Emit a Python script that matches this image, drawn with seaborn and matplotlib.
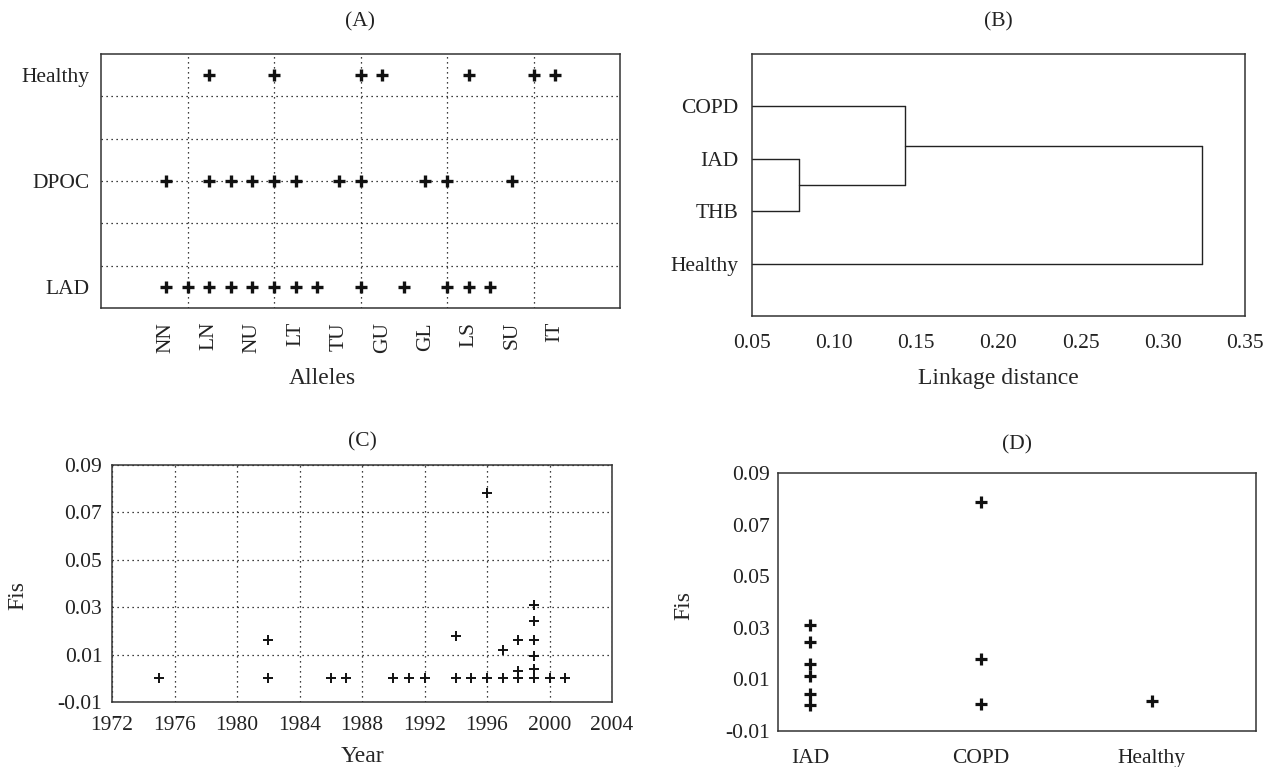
import numpy as np
import pandas as pd
import seaborn as sns
import matplotlib.pyplot as plt

# (A) allele positions present per group
allele_labels = ["NN", "LN", "NU", "LT", "TU", "GU", "GL", "LS", "SU", "IT"]
allele_label_pos = [1, 3, 5, 7, 9, 11, 13, 15, 17, 19]
groups_a = ["LAD", "DPOC", "Healthy"]
lad_alleles = [1, 2, 3, 4, 5, 6, 7, 8, 10, 12, 14, 15, 16]
dpoc_alleles = [1, 3, 4, 5, 6, 7, 9, 10, 13, 14, 17]
healthy_alleles = [3, 6, 10, 11, 15, 18, 19]

# (B) dendrogram
leaf_order = ["COPD", "IAD", "THB", "Healthy"]
merge_pairs = [("IAD", "THB"), ("COPD", "IAD|THB"), ("COPD|IAD|THB", "Healthy")]
merge_dist = [0.0785, 0.143, 0.324]

# (C) Fis by year
c_year = [1975, 1982, 1982, 1986, 1987, 1990, 1991, 1992, 1994, 1994, 1995,
          1996, 1996, 1997, 1997, 1998, 1998, 1998, 1999, 1999, 1999, 1999,
          1999, 1999, 2000, 2001]
c_fis = [0.0, 0.016, 0.0, 0.0, 0.0, 0.0, 0.0, 0.0, 0.018, 0.0, 0.0,
         0.078, 0.0, 0.012, 0.0, 0.016, 0.003, 0.0, 0.031, 0.024, 0.016, 0.0095,
         0.004, 0.0, 0.0, 0.0]

# (D) Fis by group
d_groups = ["IAD", "COPD", "Healthy"]
iad_fis = [0.031, 0.0245, 0.016, 0.0115, 0.0045, 0.0]
copd_fis = [0.0786, 0.018, 0.0003]
healthy_fis = [0.0018]

sns.set_theme(style="white")
plt.rcParams['font.family'] = ['Liberation Serif', 'DejaVu Serif']
plt.rcParams['font.size'] = 15.5
plt.rcParams['text.color'] = '#222222'

GRID = dict(color='black', linestyle=(0, (1, 3)), linewidth=0.9)
INK = '#111111'
TICK_FS = 15.5
TITLE_FS = 15.5
LABEL_FS = 17


def frame(ax):
    for s in ax.spines.values():
        s.set_visible(True)
        s.set_color('#333333')
        s.set_linewidth(1.1)
    ax.tick_params(which='both', length=0, labelsize=TICK_FS, colors='#222222')


fig = plt.figure(figsize=(12.66, 7.67), dpi=100)
axA = fig.add_axes([101 / 1266, 1 - 308 / 767, 519 / 1266, 254 / 767])
axB = fig.add_axes([752 / 1266, 1 - 316 / 767, 493 / 1266, 262 / 767])
axC = fig.add_axes([112 / 1266, 1 - 702 / 767, 500 / 1266, 237 / 767])
axD = fig.add_axes([778 / 1266, 1 - 731 / 767, 478 / 1266, 258 / 767])

# ---- (A)
row_pos = {g: i + 1 for i, g in enumerate(groups_a)}
dfA = pd.DataFrame({
    "allele": lad_alleles + dpoc_alleles + healthy_alleles,
    "group": ["LAD"] * len(lad_alleles) + ["DPOC"] * len(dpoc_alleles)
             + ["Healthy"] * len(healthy_alleles),
})
dfA["row"] = dfA["group"].map(row_pos)
sns.scatterplot(data=dfA, x="allele", y="row", marker="+", s=66, linewidth=2.4,
                color=INK, ax=axA, zorder=3)
frame(axA)
axA.set_xlim(-2, 22)
axA.set_ylim(0.8, 3.2)
axA.xaxis.remove_overlapping_locs = False
axA.yaxis.remove_overlapping_locs = False
axA.set_xticks(allele_label_pos)
axA.set_xticklabels(allele_labels, rotation=90)
axA.set_yticks([row_pos[g] for g in groups_a])
axA.set_yticklabels(groups_a)
axA.set_xticks([2, 6, 10, 14, 18], minor=True)
axA.set_yticks([1.2, 1.6, 2.0, 2.4, 2.8], minor=True)
axA.grid(which='minor', **GRID)
axA.tick_params(axis='x', pad=10)
axA.tick_params(axis='y', pad=8)
axA.set_xlabel("Alleles", va='center', fontsize=LABEL_FS)
axA.xaxis.set_label_coords(0.426, -0.276)
axA.set_ylabel("")
axA.set_title("(A)", pad=20, fontsize=TITLE_FS)

# ---- (B)
ypos = {name: i + 1 for i, name in enumerate(leaf_order)}
height = {name: 0.0 for name in leaf_order}
for (a, b), d in zip(merge_pairs, merge_dist):
    for n in (a, b):
        axB.plot([height[n], d], [ypos[n], ypos[n]], color='#222222', lw=1.0)
    axB.plot([d, d], [ypos[a], ypos[b]], color='#222222', lw=1.0)
    new = f"{a}|{b}"
    ypos[new] = (ypos[a] + ypos[b]) / 2
    height[new] = d
frame(axB)
axB.set_xlim(0.05, 0.35)
axB.set_ylim(5, 0)
xt = np.round(np.arange(0.05, 0.351, 0.05), 2)
axB.set_xticks(xt)
axB.set_xticklabels([f"{v:.2f}" for v in xt])
axB.set_xticks(xt[1:-1], minor=True)
axB.set_yticks([ypos[n] for n in leaf_order])
axB.set_yticklabels(leaf_order)
axB.grid(which='minor', axis='x', **GRID)
axB.tick_params(axis='x', pad=13)
axB.tick_params(axis='y', pad=10)
axB.set_xlabel("Linkage distance", va='center', fontsize=LABEL_FS)
axB.xaxis.set_label_coords(0.5, -0.237)
axB.set_title("(B)", pad=20, fontsize=TITLE_FS)

# ---- (C)
sns.scatterplot(x=c_year, y=c_fis, marker="+", s=45, linewidth=1.4, color=INK,
                ax=axC, zorder=3)
frame(axC)
axC.set_xlim(1972, 2004)
axC.set_ylim(-0.01, 0.09)
axC.set_xticks(range(1972, 2005, 4))
yt = np.round(np.arange(-0.01, 0.091, 0.02), 2)
axC.set_yticks(yt)
axC.set_yticklabels([f"{v:.2f}" for v in yt])
axC.grid(which='major', **GRID)
axC.tick_params(axis='x', pad=10)
axC.tick_params(axis='y', pad=7)
axC.set_xlabel("Year", va='center', fontsize=LABEL_FS)
axC.xaxis.set_label_coords(0.5, -0.232)
axC.set_ylabel("Fis", va='center', fontsize=LABEL_FS)
axC.yaxis.set_label_coords(-0.188, 0.45)
axC.set_title("(C)", pad=13, fontsize=TITLE_FS)

# ---- (D)
dfD = pd.DataFrame({
    "group": ["IAD"] * len(iad_fis) + ["COPD"] * len(copd_fis)
             + ["Healthy"] * len(healthy_fis),
    "fis": iad_fis + copd_fis + healthy_fis,
})
sns.scatterplot(data=dfD, x="group", y="fis", marker="+", s=63, linewidth=2.3,
                color=INK, ax=axD, zorder=3)
frame(axD)
axD.set_xlim(-0.19, 2.61)
axD.set_ylim(-0.01, 0.09)
axD.set_xticks(range(len(d_groups)))
axD.set_xticklabels(d_groups)
axD.set_yticks(yt)
axD.set_yticklabels([f"{v:.2f}" for v in yt])
axD.grid(False)
axD.tick_params(axis='x', pad=13)
axD.tick_params(axis='y', pad=6)
axD.set_xlabel("")
axD.set_ylabel("Fis", va='center', fontsize=LABEL_FS)
axD.yaxis.set_label_coords(-0.197, 0.488)
axD.set_title("(D)", pad=17, fontsize=TITLE_FS)

fig.savefig("out.png", dpi=100)
